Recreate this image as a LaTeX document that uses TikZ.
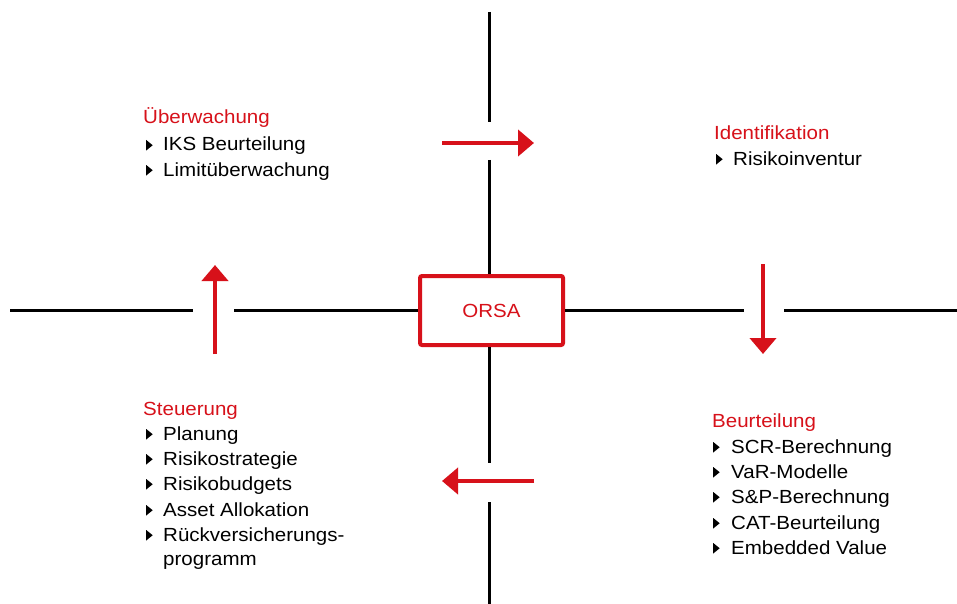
\documentclass[tikz,border=0pt]{standalone}
\usepackage{fontspec}
\setmainfont{Liberation Sans}[FakeStretch=1.08]
\usetikzlibrary{arrows.meta}
\definecolor{orsared}{RGB}{215,17,26}
\newcommand\bul{\tikz[baseline=0pt]\fill[black] (0pt,0.5pt)--(0pt,11pt)--(6.5pt,5.75pt)--cycle;}
\begin{document}
\begin{tikzpicture}[x=1pt,y=-1pt,
  axis/.style={line width=3pt, black},
  flow/.style={line width=4.5pt, orsared, -{Triangle[length=16pt 0, width=26pt 0]}},
  head/.style={anchor=base west, inner sep=0pt, font=\fontsize{19}{23}\selectfont, text=orsared},
  item/.style={anchor=base west, inner sep=0pt, font=\fontsize{19}{23}\selectfont, text=black},
  orsabox/.style={draw=orsared, line width=4pt, rounded corners=2pt, minimum width=143pt,
    minimum height=69pt, inner sep=0pt, text=orsared, font=\fontsize{19}{23}\selectfont}]
\useasboundingbox (0,0) rectangle (957,604);
\fill[white] (0,0) rectangle (957,604);

% central box
\node[orsabox] (orsa) at (491.5,310.5) {ORSA};

% axis coordinates
\coordinate (vt0) at (489,12);
\coordinate (vt1) at (489,122);
\coordinate (vt2) at (489,160);
\coordinate (vb1) at (489,463);
\coordinate (vb2) at (489,502);
\coordinate (vb3) at (489,604);
\coordinate (hl0) at (10,310);
\coordinate (hl1) at (193,310);
\coordinate (hl2) at (234,310);
\coordinate (hr1) at (744,310);
\coordinate (hr2) at (784,310);
\coordinate (hr3) at (957,310);

\draw[axis] (vt0) -- (vt1);
\draw[axis] (vt2) -- (vt2 |- orsa.north);
\draw[axis] (vb1 |- orsa.south) -- (vb1);
\draw[axis] (vb2) -- (vb3);
\draw[axis] (hl0) -- (hl1);
\draw[axis] (hl2) -- (hl2 -| orsa.west);
\draw[axis] (hr1 -| orsa.east) -- (hr1);
\draw[axis] (hr2) -- (hr3);

% flow arrows
\coordinate (a1s) at (442,143);
\coordinate (a1e) at (534,143);
\coordinate (a2s) at (763,264);
\coordinate (a2e) at (763,354);
\coordinate (a3s) at (534,481);
\coordinate (a3e) at (442,481);
\coordinate (a4s) at (215,354);
\coordinate (a4e) at (215,265);
\draw[flow] (a1s) -- (a1e);
\draw[flow] (a2s) -- (a2e);
\draw[flow] (a3s) -- (a3e);
\draw[flow] (a4s) -- (a4e);

% Überwachung
\node[head] (uh) at (143,124) {Überwachung};
\node[item] (u1) at (146,151) {\bul\hspace{10.5pt}IKS Beurteilung};
\node[item] (u2) at (146,176) {\bul\hspace{10.5pt}Limitüberwachung};

% Identifikation
\node[head] (ih) at (714,140) {Identifikation};
\node[item] (i1) at (716,165) {\bul\hspace{10.5pt}Risikoinventur};

% Beurteilung
\node[head] (bh) at (712,427) {Beurteilung};
\node[item] (b1) at (713,453) {\bul\hspace{11.5pt}SCR-Berechnung};
\node[item] (b2) at (713,478) {\bul\hspace{11.5pt}VaR-Modelle};
\node[item] (b3) at (713,503) {\bul\hspace{11.5pt}S\&P-Berechnung};
\node[item] (b4) at (713,529) {\bul\hspace{11.5pt}CAT-Beurteilung};
\node[item] (b5) at (713,554) {\bul\hspace{11.5pt}Embedded Value};

% Steuerung
\node[head] (sh) at (143,415) {Steuerung};
\node[item] (s1) at (146,440) {\bul\hspace{10.5pt}Planung};
\node[item] (s2) at (146,465) {\bul\hspace{10.5pt}Risikostrategie};
\node[item] (s3) at (146,490) {\bul\hspace{10.5pt}Risikobudgets};
\node[item] (s4) at (146,516) {\bul\hspace{10.5pt}Asset Allokation};
\node[item] (s5) at (146,541) {\bul\hspace{10.5pt}Rückversicherungs-};
\node[item] (s6) at (163,565) {programm};
\end{tikzpicture}
\end{document}
